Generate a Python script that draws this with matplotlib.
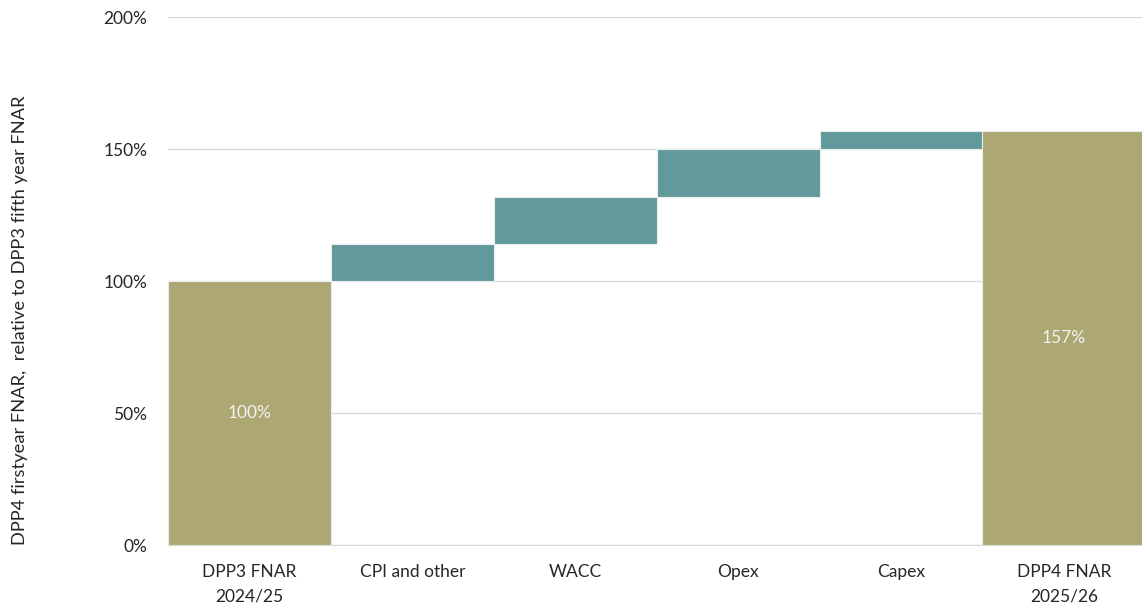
import matplotlib.pyplot as plt
from matplotlib.ticker import PercentFormatter

plt.rcParams['font.family'] = ['Lato', 'DejaVu Sans']

# waterfall data (percent of DPP3 fifth year FNAR)
categories = ['DPP3 FNAR\n2024/25', 'CPI and other', 'WACC', 'Opex', 'Capex', 'DPP4 FNAR\n2025/26']
start_value = 100
steps = [14, 18, 18, 7]
end_value = start_value + sum(steps)

olive = '#ADA774'
teal = '#62999B'

bottoms = [0]
heights = [start_value]
colors = [olive]
running = start_value
for s in steps:
    bottoms.append(running)
    heights.append(s)
    colors.append(teal)
    running += s
bottoms.append(0)
heights.append(end_value)
colors.append(olive)

fig = plt.figure(figsize=(11.42, 6.08), dpi=100)
ax = fig.add_axes([168 / 1142, 1 - 545 / 608, 1 - 168 / 1142, (545 - 17) / 608])

x = range(len(categories))
ax.bar(x, heights, bottom=bottoms, width=1.0, color=colors,
       edgecolor='#E8EEEE', linewidth=0.8, zorder=3)

# totals written inside the end bars
for i in (0, len(categories) - 1):
    ax.text(i, heights[i] / 2, f'{heights[i]:.0f}%', ha='center', va='center',
            color='#F2F2F2', fontsize=12.5, zorder=4)

ax.set_ylim(0, 200)
ax.set_xlim(-0.5, 5.48)
ax.set_yticks([0, 50, 100, 150, 200])
ax.yaxis.set_major_formatter(PercentFormatter(decimals=0))
ax.grid(axis='y', color='#D9D9D9', linewidth=1, zorder=0)
ax.set_xticks(list(x))
ax.set_xticklabels(categories, fontsize=12.5, color='#262626', linespacing=1.6)
ax.tick_params(axis='y', labelsize=12.5, labelcolor='#262626', length=0, pad=15)
ax.tick_params(axis='x', length=0, pad=14)
for side in ['top', 'right', 'left']:
    ax.spines[side].set_visible(False)
ax.spines['bottom'].set_color('#D9D9D9')
ax.spines['bottom'].set_zorder(5)

fig.text(20 / 1142, 1 - 320 / 608, 'DPP4 firstyear FNAR,  relative to DPP3 fifth year FNAR',
         rotation=90, ha='center', va='center', fontsize=13.2, color='#262626')

fig.savefig('out.png', dpi=100)
